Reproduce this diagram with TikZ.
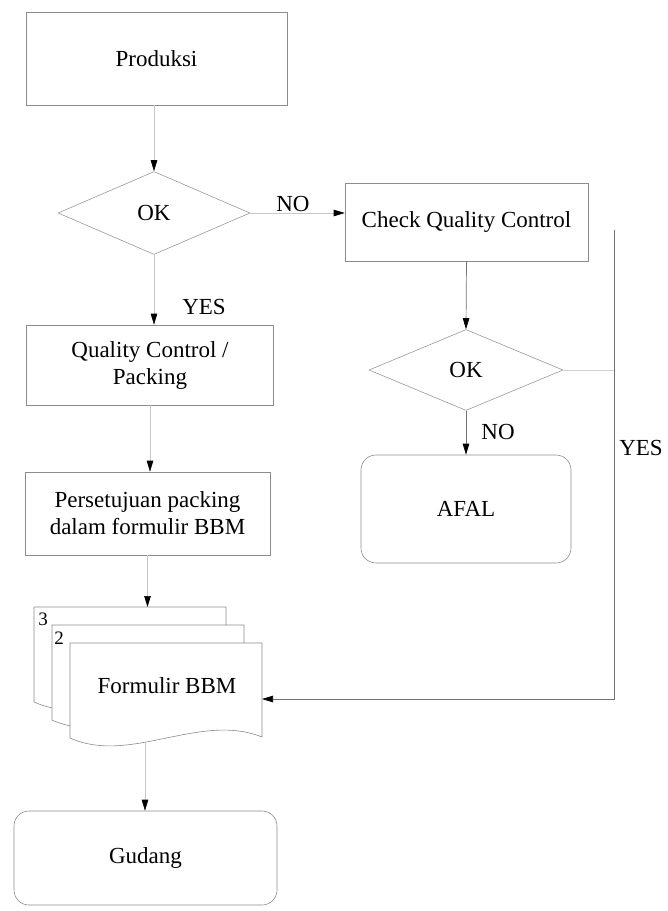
\documentclass[tikz,border=0pt]{standalone}
\usepackage{fontspec}
\setmainfont{Liberation Serif}
\usetikzlibrary{shapes.geometric,arrows.meta,calc}
\begin{document}
\begin{tikzpicture}[x=1pt,y=-1pt,
  every node/.style={font=\fontsize{23}{27}\selectfont},
  box/.style={draw=black!45, line width=0.6pt, inner sep=0pt, align=center},
  rbox/.style={box, rounded corners=15pt},
  dec/.style={draw=black!40, line width=0.6pt, shape=diamond, inner sep=0pt},
  docline/.style={draw=black!45, line width=0.6pt, fill=white},
  flow/.style={draw=black!22, line width=0.6pt, -{Triangle[width=6.5pt,length=11pt,color=black,fill=black]}},
  flowdark/.style={draw=black!55, line width=0.7pt, -{Triangle[width=6.5pt,length=11pt,color=black,fill=black]}},
  lbl/.style={inner sep=0pt},
  num/.style={font=\fontsize{19}{19}\selectfont, inner sep=0pt}
]
\useasboundingbox (0,0) rectangle (668,911);

% nodes
\node[box, minimum width=261pt, minimum height=93pt] (prod) at (156.5,58.5) {Produksi};
\node[dec, minimum width=192pt, minimum height=83pt] (ok1) at (154,213) {OK};
\node[box, minimum width=243pt, minimum height=78pt] (cqc) at (466.5,222) {Check Quality Control};
\node[dec, minimum width=194pt, minimum height=81pt] (ok2) at (466,370) {OK};
\node[rbox, minimum width=210pt, minimum height=108pt] (afal) at (466,509) {AFAL};
\node[box, minimum width=247pt, minimum height=80pt] (qc) at (150,365) {Quality Control /\\Packing};
\node[box, minimum width=245pt, minimum height=83pt] (pers) at (147.5,513.5) {Persetujuan packing\\dalam formulir BBM};
\node[rbox, minimum width=263pt, minimum height=94pt] (gud) at (145.5,858) {Gudang};

% document stack
\foreach \s in {36,18,0} {
  \draw[docline, shift={(-\s,-\s)}] (70,643) -- (262,643) -- (262,737)
    .. controls (200,712) and (130,765) .. (70,738) -- cycle;
}
\node[num] (n3) at (43,619) {3};
\node[num] (n2) at (59,638) {2};
\node (form) at (167,686) {Formulir BBM};
\coordinate (formtop) at (146,607);
\coordinate (formE) at (262,699);
\coordinate (formbot) at (145,742);

% labels
\node[lbl] (no1) at (293,204) {NO};
\node[lbl] (yes1) at (204,307) {YES};
\node[lbl] (no2) at (498,432) {NO};
\node[lbl] (yes2) at (641,448) {YES};

% connectors
\draw[flow] (prod.south -| ok1.north) -- (ok1.north);
\draw[flow] (ok1.east) -- (ok1.east -| cqc.west);
\draw[flow] (ok1.south) -- (ok1.south |- qc.north);
\draw[flow] (qc.south) -- (qc.south |- pers.north);
\draw[flow] (pers.south) -- (pers.south |- formtop);
\draw[flow] (formbot) -- (formbot |- gud.north);
\draw[flowdark] (cqc.south) -- (ok2.north);
\draw[flowdark] (ok2.south) -- (afal.north);
\coordinate (yesA) at (614,230);
\coordinate (yesB) at (614,370);
\coordinate (yesC) at (614,699);
\draw[draw=black!18, line width=0.6pt] (ok2.east) -- (yesB);
\draw[flowdark] (yesA) -- (yesC) -- (formE);
\end{tikzpicture}
\end{document}
